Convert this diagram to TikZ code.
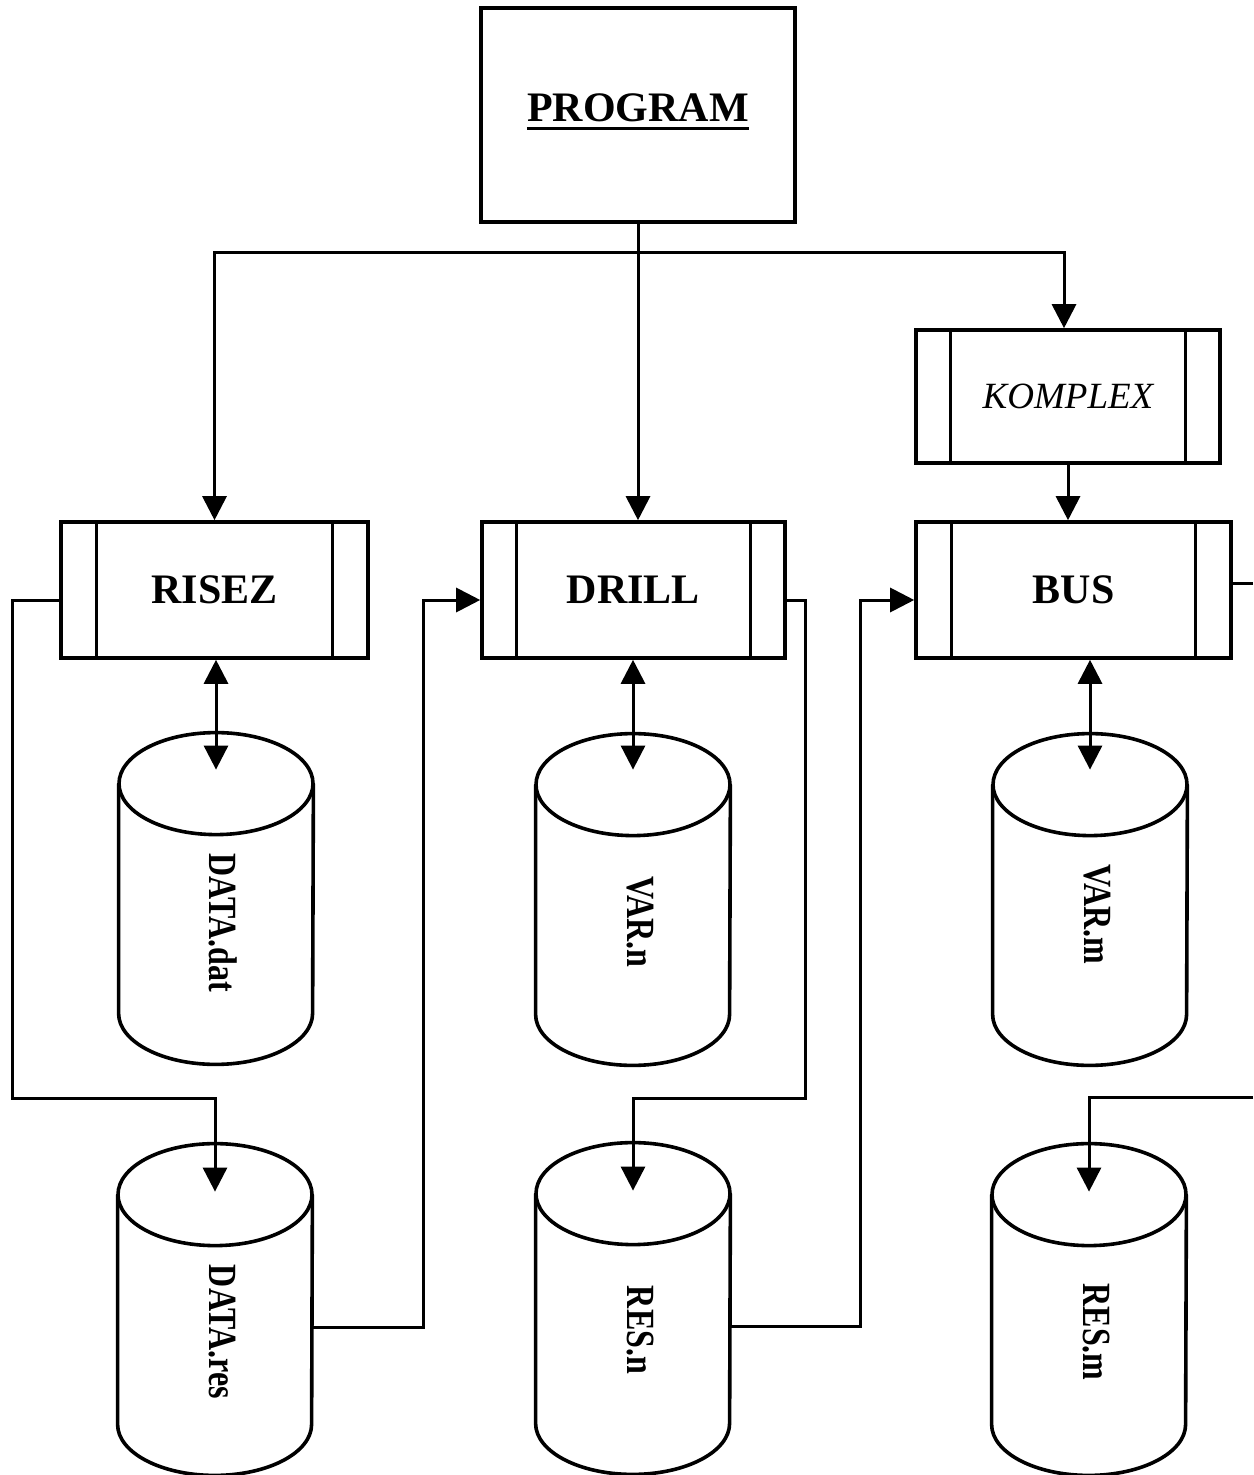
\documentclass[tikz,border=0pt]{standalone}
\usepackage{fontspec}
\usepackage{graphicx}
\setmainfont{Liberation Serif}
\usetikzlibrary{arrows.meta,calc}
\newcommand\drawcyl[1]{%
  \draw[cylline] ([yshift=-25.5pt]#1.north) ellipse [x radius=48.5pt, y radius=25.5pt];
  \draw[cylline] ([yshift=-25.5pt]#1.north west) -- ([yshift=25.5pt]#1.south west)
    arc[start angle=180, end angle=360, x radius=48.5pt, y radius=25.5pt]
    -- ([yshift=-25.5pt]#1.north east);}
\begin{document}
\begin{tikzpicture}[x=0.5pt,y=-0.5pt,
  box/.style={draw, line width=1.8pt, inner sep=0pt},
  subproc/.style={box, minimum height=68pt, font=\fontsize{21}{25}\selectfont\bfseries},
  cylbox/.style={inner sep=0pt, minimum width=97pt, minimum height=165.5pt},
  cyllabel/.style={rotate=-90, inner sep=0pt, font=\fontsize{20}{24}\selectfont\bfseries},
  cylline/.style={line width=1.8pt},
  conn/.style={line width=1.5pt},
  arr/.style={conn, -{Triangle[length=12pt,width=12pt]}},
  biarr/.style={conn, {Triangle[length=12pt,width=12pt]}-{Triangle[length=12pt,width=12pt]}}
]
\useasboundingbox[fill=white] (0,0) rectangle (1253,1475);

% top program box
\node[box, minimum width=157pt, minimum height=107pt] (prog) at (638,115) {};
\node[inner sep=0pt, font=\fontsize{21}{25}\selectfont\bfseries] (progtxt) at (638,108) {PROGRAM};
\draw[line width=1.5pt] ([yshift=-3.2pt]progtxt.base west) -- ([yshift=-3.2pt]progtxt.base east);

% subprocess boxes
\node[subproc, minimum width=153.5pt] (risez) at (214.5,590) {RISEZ};
\node[subproc, minimum width=151.5pt] (drill) at (633.5,590) {DRILL};
\node[subproc, minimum width=157.5pt] (bus) at (1073.5,590) {BUS};
\node[box, minimum width=152pt, minimum height=66.5pt, font=\fontsize{18.5}{22}\selectfont\itshape] (komplex) at (1068,396.5) {KOMPLEX};
\foreach \n/\d in {risez/18.5, drill/18, bus/18.5, komplex/18}{
  \draw[line width=1.5pt] ([xshift=\d pt]\n.north west) -- ([xshift=\d pt]\n.south west);
  \draw[line width=1.5pt] ([xshift=-\d pt]\n.north east) -- ([xshift=-\d pt]\n.south east);
}

% cylinders
\node[cylbox] (dat) at (216,898.5) {};
\node[cylbox] (varn) at (633,899.5) {};
\node[cylbox] (varm) at (1090,899.5) {};
\node[cylbox] (res) at (215,1309.5) {};
\node[cylbox] (resn) at (633,1308.5) {};
\node[cylbox] (resm) at (1089,1309.5) {};
\drawcyl{dat}\drawcyl{varn}\drawcyl{varm}\drawcyl{res}\drawcyl{resn}\drawcyl{resm}
\node[cyllabel] (datL) at (223,923) {\scalebox{0.8}[1]{DATA.dat}};
\node[cyllabel] (varnL) at (640,922) {\scalebox{0.8}[1]{VAR.n}};
\node[cyllabel] (varmL) at (1097,914) {\scalebox{0.8}[1]{VAR.m}};
\node[cyllabel] (resL) at (222,1332) {\scalebox{0.8}[1]{DATA.res}};
\node[cyllabel] (resnL) at (640,1330) {\scalebox{0.8}[1]{RES.n}};
\node[cyllabel] (resmL) at (1096,1332) {\scalebox{0.8}[1]{RES.m}};

% connectors
\coordinate (hub) at (638,253);
\draw[arr] (prog.south) -- (prog.south |- drill.north);
\draw[arr] (hub) -| (risez.north);
\draw[arr] (hub) -| ([xshift=-2pt]komplex.north);
\draw[arr] (komplex.south) -- (komplex.south |- bus.north);

\draw[biarr] (dat.north |- risez.south) -- ([yshift=-18.5pt]dat.north);
\draw[biarr] (varn.north |- drill.south) -- ([yshift=-18pt]varn.north);
\draw[biarr] (varm.north |- bus.south) -- ([yshift=-18pt]varm.north);

\coordinate (l1) at (12,1098);
\draw[arr] ([yshift=-5pt]risez.west) -| (l1) -| ([yshift=-24pt]res.north);
\coordinate (l2) at (423,600);
\draw[arr] ([yshift=-8.75pt]res.east) -| (l2) -- ([yshift=-5pt]drill.west);
\coordinate (l3) at (805,1098);
\draw[arr] ([yshift=-5pt]drill.east) -| (l3) -| ([yshift=-24pt]resn.north);
\coordinate (l4) at (860,600);
\draw[arr] ([yshift=-8.75pt]resn.east) -| (l4) -- ([yshift=-5pt]bus.west);
\coordinate (r1) at (1253,583);
\draw[conn] ([yshift=3.5pt]bus.east) -- (r1);
\coordinate (r2) at (1253,1097);
\draw[arr] (r2) -| ([yshift=-24pt]resm.north);
\end{tikzpicture}
\end{document}
